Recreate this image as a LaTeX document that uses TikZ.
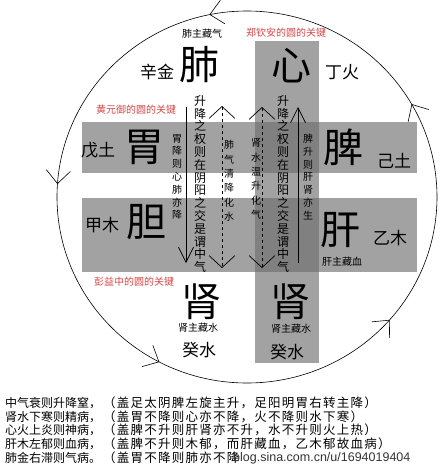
\documentclass[tikz,border=0pt]{standalone}
\usepackage{fontspec}
\setmainfont{Noto Sans CJK SC}
\newfontfamily\latinsans{Liberation Sans}
\newfontfamily\widecjk[LetterSpace=10]{Noto Sans CJK SC}
\usetikzlibrary{arrows.meta,decorations.markings}

\definecolor{keyred}{RGB}{212,70,70}
\definecolor{bandgray}{RGB}{162,162,162}
\definecolor{crossgray}{RGB}{128,128,128}

\tikzset{
  big/.style={font=\fontsize{40}{40}\selectfont,inner sep=0pt},
  mid/.style={font=\fontsize{17}{17}\selectfont,inner sep=0pt},
  smallcap/.style={font=\fontsize{10}{10}\selectfont,inner sep=0pt},
  keycap/.style={smallcap,text=keyred},
  widecol/.style={align=center,inner sep=0pt,font=\fontsize{12}{12.8}\selectfont},
  thincol/.style={align=center,inner sep=0pt,font=\fontsize{10}{14.4}\selectfont},
  shortcol/.style={align=center,inner sep=0pt,font=\fontsize{10}{12.8}\selectfont},
  textline/.style={anchor=west,inner sep=0pt,font=\fontsize{12}{12}\selectfont},
  gloss/.style={anchor=west,inner sep=0pt,font=\widecjk\fontsize{12.5}{12.5}\selectfont},
  flowtip/.tip={Straight Barb[length=15pt,width=15pt]},
  widetip/.tip={Straight Barb[length=12pt,width=26pt]},
  cyctip/.tip={Straight Barb[length=13pt,width=24pt]},
  flow/.style={line width=0.7pt},
}

\begin{document}
\begin{tikzpicture}[x=1pt,y=-1pt]
\useasboundingbox (0,0) rectangle (440,469);

% gray bands
\fill[bandgray] (82,122) rectangle (417,173);
\fill[bandgray] (82,198) rectangle (417,272);
\fill[bandgray] (255,41) rectangle (319,363);
\fill[crossgray] (255,122) rectangle (319,173);
\fill[crossgray] (255,198) rectangle (319,272);

% the cycle
\draw[line width=0.6pt,postaction=decorate,decoration={markings,
  mark=at position 0.0825 with {\arrow{cyctip}},
  mark=at position 0.282 with {\arrow{cyctip}},
  mark=at position 0.489 with {\arrow{cyctip}},
  mark=at position 0.673 with {\arrow{cyctip}},
  mark=at position 0.886 with {\arrow{cyctip}}}]
  (437,197) arc[start angle=0,end angle=-360,x radius=190,y radius=186];

% organs
\node[big] (fei) at (199,65) {肺};
\node[big] (xin) at (291,66) {心};
\node[mid] (xinjin) at (157,72) {辛金};
\node[mid] (dinghuo) at (342,72) {丁火};
\node[smallcap] (feiCap) at (202,34) {肺主藏气};
\node[keycap] (zhengKey) at (286,33) {郑钦安的圆的关键};

\node[keycap] (huangKey) at (136,110) {黄元御的圆的关键};
\node[mid] (wutu) at (98,150) {戊土};
\node[big] (wei) at (144,147) {胃};
\node[big] (pi) at (343,147) {脾};
\node[mid] (jitu) at (394,161) {己土};

\node[mid] (jiamu) at (102,225) {甲木};
\node[big] (dan) at (146,222) {胆};
\node[big] (gan) at (340,230) {肝};
\node[mid] (yimu) at (390,238) {乙木};
\node[smallcap] (ganCap) at (342,262) {肝主藏血};

\node[keycap] (pengKey) at (134,282) {彭益中的圆的关键};
\node[big] (shenL) at (201,302) {肾};
\node[smallcap] (shenLCap) at (198,328) {肾主藏水};
\node[mid] (guiL) at (199,350) {癸水};
\node[big] (shenR) at (290,302) {肾};
\node[smallcap] (shenRCap) at (291,329) {肾主藏水};
\node[mid] (guiR) at (287,352) {癸水};

% columns
\node[shortcol] (weiCol) at (177,177) {胃\\降\\则\\心\\肺\\亦\\降};
\node[widecol] (zhongL) at (200,184) {升\\降\\之\\权\\则\\在\\阴\\阳\\之\\交\\是\\谓\\中\\气};
\node[thincol] (feiCol) at (229,181) {肺\\气\\清\\降\\化\\水};
\node[thincol] (shenCol) at (256,179) {肾\\水\\温\\升\\化\\气};
\node[widecol] (zhongR) at (283,184) {升\\降\\之\\权\\则\\在\\阴\\阳\\之\\交\\是\\谓\\中\\气};
\node[shortcol] (piCol) at (308,177) {脾\\升\\则\\肝\\肾\\亦\\生};

% flows
\coordinate (weiTop) at (186,107);
\coordinate (weiBot) at (186,263);
\coordinate (feiTop) at (222,106);
\coordinate (feiBot) at (222,268);
\coordinate (shenTop) at (262,107);
\coordinate (shenBot) at (262,268);
\coordinate (piTop) at (298,107);
\coordinate (piBot) at (298,263);
\draw[flow,-flowtip] (weiTop) -- (weiBot);
\draw[flow,dashed,widetip-widetip] (feiTop) -- (feiBot);
\draw[flow,dashed,widetip-widetip] (shenTop) -- (shenBot);
\draw[flow,flowtip-] (piTop) -- (piBot);

% notes
\node[textline] (noteA) at (5,403) {中气衰则升降窒，};
\node[gloss] (noteAx) at (103,403) {（盖足太阴脾左旋主升，足阳明胃右转主降）};
\node[textline] (noteB) at (5,417) {肾水下寒则精病，};
\node[gloss] (noteBx) at (103,417) {（盖胃不降则心亦不降，火不降则水下寒）};
\node[textline] (noteC) at (5,430) {心火上炎则神病，};
\node[gloss] (noteCx) at (103,430) {（盖脾不升则肝肾亦不升，水不升则火上热）};
\node[textline] (noteD) at (5,444) {肝木左郁则血病，};
\node[gloss] (noteDx) at (103,444) {（盖脾不升则木郁，而肝藏血，乙木郁故血病）};
\node[textline] (noteE) at (5,458) {肺金右滞则气病。};
\node[gloss] (noteEx) at (103,458) {（盖胃不降则肺亦不降};
\node[anchor=west,inner sep=0pt,font=\latinsans\fontsize{12.5}{12.5}\selectfont,text=black!80] (mark) at (233,458) {blog.sina.com.cn/u/1694019404};

\end{tikzpicture}
\end{document}
